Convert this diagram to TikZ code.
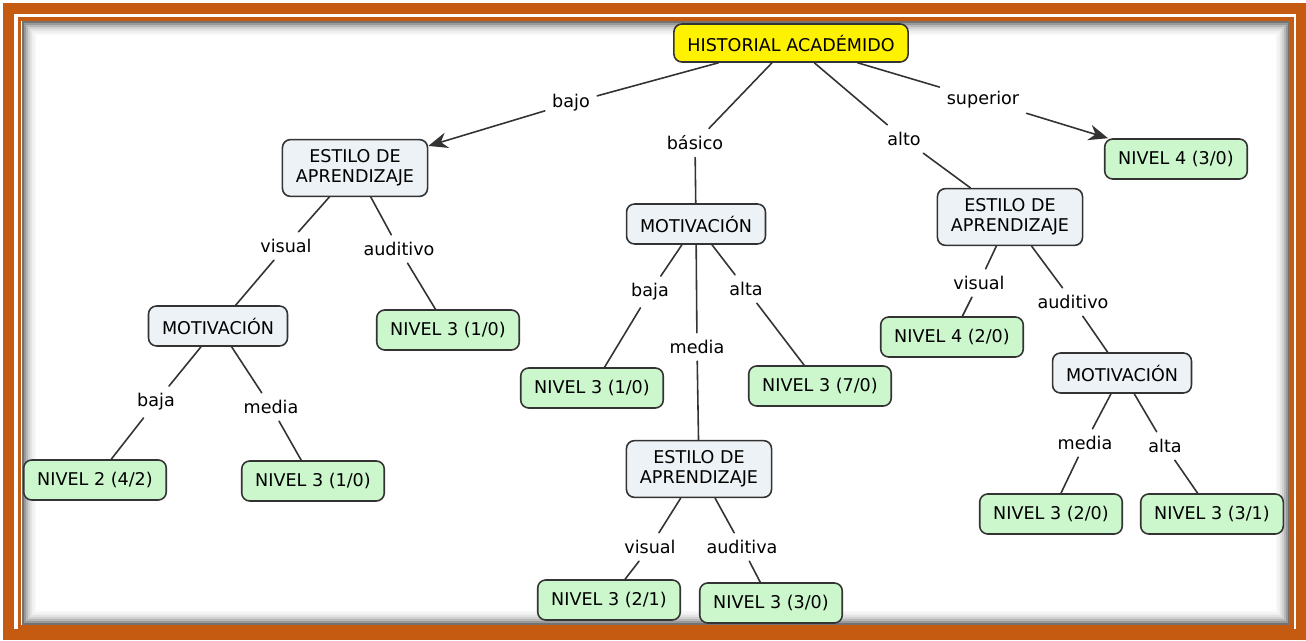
\documentclass[tikz,border=0pt]{standalone}
\usepackage{fontspec}
\setmainfont{DejaVu Sans}
\usetikzlibrary{arrows.meta}

\definecolor{marco}{HTML}{C55A11}
\definecolor{azulgris}{HTML}{ECF2F5}
\definecolor{verdeclaro}{HTML}{CCF7CC}
\definecolor{borde}{HTML}{333333}

\tikzset{
  caja/.style={draw=borde, line width=0.9pt, rounded corners=0.16cm,
    inner xsep=0.27cm, inner ysep=0.2cm, minimum height=0.8cm,
    align=center, font=\fontsize{10}{11.5}\selectfont},
  raiz/.style={caja, fill=yellow, minimum height=0.76cm},
  concepto/.style={caja, fill=azulgris},
  nivel/.style={caja, fill=verdeclaro},
  enlace/.style={font=\fontsize{10}{11.5}\selectfont, inner sep=4pt},
  linea/.style={draw=borde, line width=0.9pt}
}

\begin{document}
\begin{tikzpicture}[x=0.02cm,y=-0.02cm,>={Stealth[length=11pt,width=9pt]},line cap=round]

	% ---- marco ----
	\useasboundingbox (0,0) rectangle (1306,641);
	\fill[white] (0,0) rectangle (1306,641);
	\draw[marco, line width=0.22cm] (8.5,8.5) rectangle (1301,635);
	\draw[marco, line width=0.08cm] (19.5,19) rectangle (1291.5,627.5);
	\foreach \i/\g in {0/55,1/40,2/28,3/18,4/11,5/6,6/3}
		\draw[black!\g, line width=0.04cm] (23+2*\i,22.5+2*\i) rectangle (1289-2*\i,624-2*\i);

	% ---- conceptos ----
	\node[raiz] (historial) at (791,43) {HISTORIAL ACADÉMIDO};

	\node[concepto] (estiloA) at (355,168) {ESTILO DE\\APRENDIZAJE};
	\node[concepto] (motivA) at (218,326) {MOTIVACIÓN};
	\node[nivel] (nivA1) at (95,480) {NIVEL 2 (4/2)};
	\node[nivel] (nivA2) at (313,481) {NIVEL 3 (1/0)};
	\node[nivel] (nivA3) at (448,330) {NIVEL 3 (1/0)};

	\node[concepto] (motivB) at (696,224) {MOTIVACIÓN};
	\node[nivel] (nivB1) at (592,388) {NIVEL 3 (1/0)};
	\node[nivel] (nivB2) at (820,386) {NIVEL 3 (7/0)};
	\node[concepto] (estiloB) at (699,469) {ESTILO DE\\APRENDIZAJE};
	\node[nivel] (nivB3) at (609,600) {NIVEL 3 (2/1)};
	\node[nivel] (nivB4) at (771,603) {NIVEL 3 (3/0)};

	\node[concepto] (estiloC) at (1010,217) {ESTILO DE\\APRENDIZAJE};
	\node[nivel] (nivC1) at (952,337) {NIVEL 4 (2/0)};
	\node[concepto] (motivC) at (1122,373) {MOTIVACIÓN};
	\node[nivel] (nivC2) at (1051,514) {NIVEL 3 (2/0)};
	\node[nivel] (nivC3) at (1212,514) {NIVEL 3 (3/1)};

	\node[nivel] (nivD) at (1176,159) {NIVEL 4 (3/0)};

	% ---- palabras de enlace ----
	\node[enlace] (bajo) at (571,103) {bajo};
	\node[enlace] (basico) at (695,143) {básico};
	\node[enlace] (alto) at (904,139) {alto};
	\node[enlace] (superior) at (983,100) {superior};

	\node[enlace] (visualA) at (286,246) {visual};
	\node[enlace] (auditivoA) at (399,249) {auditivo};
	\node[enlace] (bajaA) at (156,402) {baja};
	\node[enlace] (mediaA) at (271,407) {media};

	\node[enlace] (bajaB) at (650,292) {baja};
	\node[enlace] (altaB) at (746,289) {alta};
	\node[enlace] (mediaB) at (697,347) {media};
	\node[enlace] (visualB) at (650,547) {visual};
	\node[enlace] (auditivaB) at (742,547) {auditiva};

	\node[enlace] (visualC) at (979,283) {visual};
	\node[enlace] (auditivoC) at (1073,302) {auditivo};
	\node[enlace] (mediaC) at (1085,443) {media};
	\node[enlace] (altaC) at (1165,446) {alta};

	% ---- conectores ----
	\draw[linea] (historial) -- (bajo);
	\draw[linea,->] (bajo) -- (estiloA);
	\draw[linea] (historial) -- (basico);
	\draw[linea] (basico) -- (motivB);
	\draw[linea] (historial) -- (alto);
	\draw[linea] (alto) -- (estiloC);
	\draw[linea] (historial) -- (superior);
	\draw[linea,->] (superior) -- (nivD);

	\draw[linea] (estiloA) -- (visualA);
	\draw[linea] (visualA) -- (motivA);
	\draw[linea] (estiloA) -- (auditivoA);
	\draw[linea] (auditivoA) -- (nivA3);
	\draw[linea] (motivA) -- (bajaA);
	\draw[linea] (bajaA) -- (nivA1);
	\draw[linea] (motivA) -- (mediaA);
	\draw[linea] (mediaA) -- (nivA2);

	\draw[linea] (motivB) -- (bajaB);
	\draw[linea] (bajaB) -- (nivB1);
	\draw[linea] (motivB) -- (altaB);
	\draw[linea] (altaB) -- (nivB2);
	\draw[linea] (motivB) -- (mediaB);
	\draw[linea] (mediaB) -- (estiloB);
	\draw[linea] (estiloB) -- (visualB);
	\draw[linea] (visualB) -- (nivB3);
	\draw[linea] (estiloB) -- (auditivaB);
	\draw[linea] (auditivaB) -- (nivB4);

	\draw[linea] (estiloC) -- (visualC);
	\draw[linea] (visualC) -- (nivC1);
	\draw[linea] (estiloC) -- (auditivoC);
	\draw[linea] (auditivoC) -- (motivC);
	\draw[linea] (motivC) -- (mediaC);
	\draw[linea] (mediaC) -- (nivC2);
	\draw[linea] (motivC) -- (altaC);
	\draw[linea] (altaC) -- (nivC3);

\end{tikzpicture}
\end{document}
